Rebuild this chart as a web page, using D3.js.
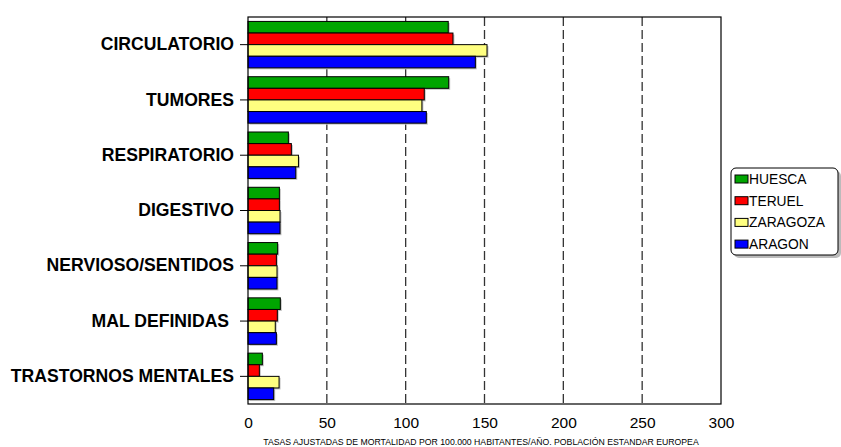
<!DOCTYPE html>
<html>
<head>
<meta charset="utf-8">
<script src="https://cdn.jsdelivr.net/npm/d3@7"></script>
<style>
  html, body { margin: 0; padding: 0; background: #fff; }
  svg { display: block; font-family: "Liberation Sans", Arial, sans-serif; }
</style>
</head>
<body>
<svg id="chart" width="841" height="447"></svg>
<script>
const categories = ["CIRCULATORIO", "TUMORES", "RESPIRATORIO", "DIGESTIVO", "NERVIOSO/SENTIDOS", "MAL DEFINIDAS ", "TRASTORNOS MENTALES"];
const seriesNames = ["HUESCA", "TERUEL", "ZARAGOZA", "ARAGON"];
const huesca   = [127, 127.3, 25.6, 19.9, 18.8, 20.5, 9.1];
const teruel   = [130, 111.8, 27.5, 19.9, 18.0, 18.6, 7.2];
const zaragoza = [151.6, 110.3, 32.0, 20.3, 18.4, 17.3, 19.7];
const aragon   = [144.2, 113.1, 30.3, 20.3, 18.4, 18.0, 16.3];
const xTicks = [0, 50, 100, 150, 200, 250, 300];
const gridTicks = [50, 100, 150, 200, 250];
const xTitle = "TASAS AJUSTADAS DE MORTALIDAD POR 100.000 HABITANTES/AÑO. POBLACIÓN ESTANDAR EUROPEA";
const colors = ["#00A500", "#FF0000", "#FFFF80", "#0000FF"];

const seriesValues = [huesca, teruel, zaragoza, aragon];
const data = categories.map((c, i) => ({
  cat: c,
  vals: seriesNames.map((s, j) => ({ s, j, v: seriesValues[j][i] }))
}));

const svg = d3.select("#chart");
const L = 248, R = 721, T = 17, B = 404;

const x = d3.scaleLinear().domain([0, 300]).range([L, R]);
const y0 = d3.scaleBand().domain(categories).range([T, B]).paddingInner(0.16).paddingOuter(0.08);
const y1 = d3.scaleBand().domain(seriesNames).range([0, y0.bandwidth()]);
const color = d3.scaleOrdinal().domain(seriesNames).range(colors);

// gridlines
svg.append("g").selectAll("line").data(gridTicks).join("line")
  .attr("x1", d => x(d)).attr("x2", d => x(d))
  .attr("y1", T).attr("y2", B)
  .attr("stroke", "#333").attr("stroke-width", 1.3)
  .attr("stroke-dasharray", "9,4");

// bars
const groups = svg.append("g").selectAll("g").data(data).join("g")
  .attr("transform", d => `translate(0,${y0(d.cat)})`);

groups.selectAll("rect.shadow").data(d => d.vals).join("rect")
  .attr("class", "shadow")
  .attr("x", x(0) + 1.5)
  .attr("y", d => y1(d.s) + 1.5)
  .attr("width", d => x(d.v) - x(0))
  .attr("height", y1.bandwidth())
  .attr("fill", "#c4c4c4");

groups.selectAll("rect.bar").data(d => d.vals).join("rect")
  .attr("class", "bar")
  .attr("x", x(0))
  .attr("y", d => y1(d.s))
  .attr("width", d => x(d.v) - x(0))
  .attr("height", y1.bandwidth())
  .attr("fill", d => color(d.s))
  .attr("stroke", "#000").attr("stroke-width", 1);

// frame
svg.append("rect")
  .attr("x", L).attr("y", T).attr("width", R - L).attr("height", B - T)
  .attr("fill", "none").attr("stroke", "#000").attr("stroke-width", 1.2);

// x axis labels
const xAxis = d3.axisBottom(x).tickValues(xTicks).tickSize(0).tickPadding(13);
const gx = svg.append("g").attr("transform", `translate(0,${B})`).call(xAxis);
gx.select(".domain").remove();
gx.selectAll("text").attr("font-size", 15.5).attr("fill", "#000")
  .attr("font-family", "'Liberation Sans', Arial, sans-serif");

// y axis
const yAxis = d3.axisLeft(y0).tickSize(8).tickPadding(6);
const gy = svg.append("g").attr("transform", `translate(${L},0)`).call(yAxis);
gy.select(".domain").remove();
gy.selectAll("line").attr("stroke", "#000");
gy.selectAll("text").attr("font-size", 17.6).attr("font-weight", "bold").attr("fill", "#000")
  .attr("font-family", "'Liberation Sans', Arial, sans-serif")
  .style("white-space", "pre");

// x title
svg.append("text")
  .attr("x", 481).attr("y", 445)
  .attr("text-anchor", "middle")
  .attr("font-size", 8.7)
  .attr("fill", "#000")
  .text(xTitle);

// legend
const lg = svg.append("g");
lg.append("rect").attr("x", 734).attr("y", 171).attr("width", 107).attr("height", 87)
  .attr("rx", 5).attr("fill", "#bbb");
lg.append("rect").attr("x", 731).attr("y", 168).attr("width", 107).attr("height", 87)
  .attr("rx", 5).attr("fill", "#fff").attr("stroke", "#000").attr("stroke-width", 1);
const items = lg.selectAll("g.item").data(seriesNames).join("g")
  .attr("class", "item")
  .attr("transform", (d, i) => `translate(735,${179 + i * 21.7})`);
items.append("rect").attr("x", 0).attr("y", -4).attr("width", 13).attr("height", 8)
  .attr("fill", d => color(d)).attr("stroke", "#000").attr("stroke-width", 1);
items.append("text").attr("x", 14).attr("y", 0).attr("dy", "0.35em")
  .attr("font-size", 13.8).attr("fill", "#000").text(d => d);
</script>
</body>
</html>
